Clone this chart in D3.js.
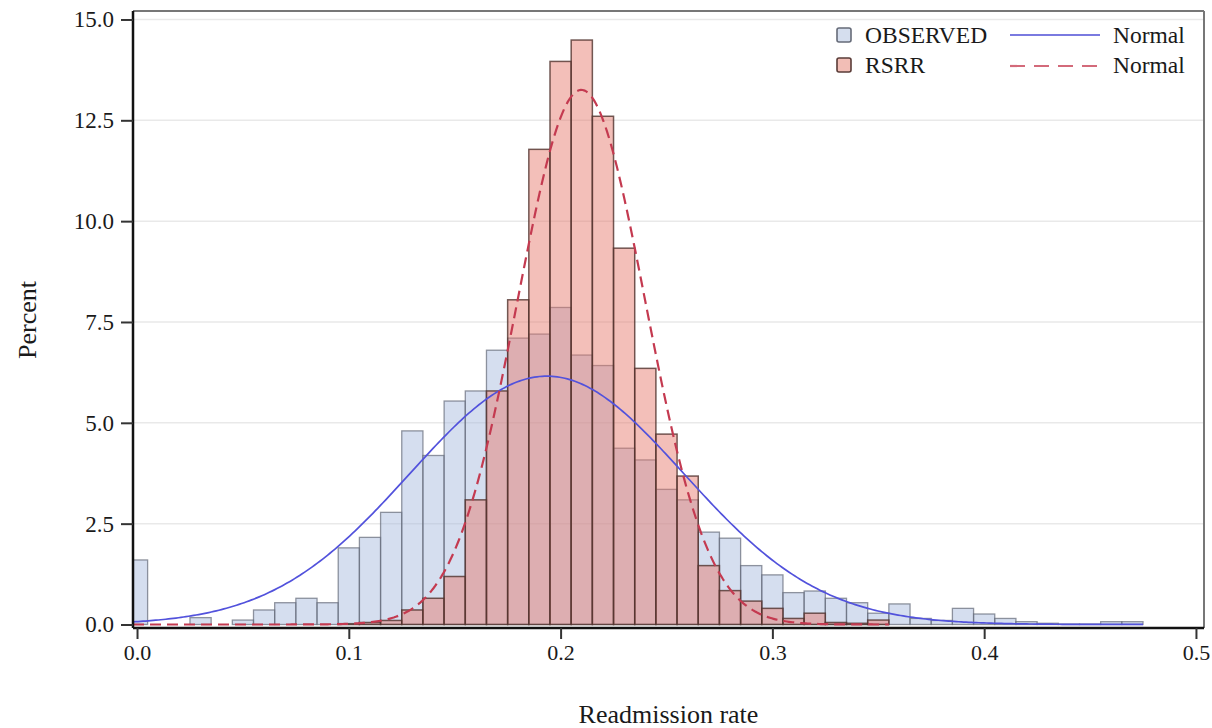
<!DOCTYPE html>
<html><head><meta charset="utf-8">
<script src="https://cdn.jsdelivr.net/npm/d3@7"></script>
<style>
body{margin:0;background:#fff}
svg{display:block}
text{font-family:"Liberation Serif","Times New Roman",serif;fill:#1a1a1a}
</style></head>
<body><svg id="c" width="1212" height="728"></svg>
<script>
// ---- data ----
const binWidth = 0.01;
const observedCenters = [0.00,0.01,0.02,0.03,0.04,0.05,0.06,0.07,0.08,0.09,0.10,0.11,0.12,0.13,0.14,0.15,0.16,0.17,0.18,0.19,0.20,0.21,0.22,0.23,0.24,0.25,0.26,0.27,0.28,0.29,0.30,0.31,0.32,0.33,0.34,0.35,0.36,0.37,0.38,0.39,0.40,0.41,0.42,0.43,0.44,0.45,0.46,0.47];
const observedPct = [1.60,0,0,0.17,0,0.11,0.36,0.54,0.65,0.54,1.90,2.16,2.78,4.80,4.19,5.54,5.79,6.80,7.10,7.20,7.86,6.68,6.42,4.37,4.08,3.35,3.09,2.29,2.14,1.46,1.23,0.79,0.83,0.65,0.54,0.28,0.51,0.15,0.10,0.40,0.26,0.15,0.07,0.03,0.01,0.01,0.07,0.07];
const rsrrCenters = [0.10,0.11,0.12,0.13,0.14,0.15,0.16,0.17,0.18,0.19,0.20,0.21,0.22,0.23,0.24,0.25,0.26,0.27,0.28,0.29,0.30,0.31,0.32,0.33,0.34,0.35];
const rsrrPct = [0.02,0.05,0.10,0.36,0.65,1.19,3.09,5.79,8.05,11.78,13.96,14.49,12.60,9.33,6.35,4.72,3.68,1.46,0.84,0.58,0.40,0.15,0.28,0.05,0.03,0.11];
// fitted normal curves (parameters)
const normalObserved = {mean:0.1935, sd:0.0648, xmin:-0.0019, xmax:0.475};
const normalRsrr = {mean:0.2098, sd:0.0301, xmin:-0.0019, xmax:0.355};
const xTicks = [0,0.1,0.2,0.3,0.4,0.5];
const xTickLabels = ["0.0","0.1","0.2","0.3","0.4","0.5"];
const yTicks = [0,2.5,5,7.5,10,12.5,15];
const yTickLabels = ["0.0","2.5","5.0","7.5","10.0","12.5","15.0"];
const legendItems = ["OBSERVED","RSRR"];
const legendLines = ["Normal","Normal"];

// ---- layout ----
const L=133, R=1204, T=11, B=628;
const svg = d3.select("#c");
const x = d3.scaleLinear().domain([-0.0019,0.5038]).range([L,R]);
const y = d3.scaleLinear().domain([-0.087,15.21]).range([B,T]);

svg.append("defs").append("clipPath").attr("id","clip")
  .append("rect").attr("x",L).attr("y",T).attr("width",R-L).attr("height",B-T);

// gridlines
svg.append("g").selectAll("line").data(yTicks.filter(d=>d>0)).join("line")
  .attr("x1",L).attr("x2",R).attr("y1",d=>y(d)).attr("y2",d=>y(d))
  .attr("stroke","#e9e9e9").attr("stroke-width",1.5);

const plot = svg.append("g").attr("clip-path","url(#clip)");

function bars(centers, vals, fill, stroke, sw){
  plot.append("g").selectAll("rect").data(centers.map((c,i)=>({c,v:vals[i]})).filter(d=>d.v>0)).join("rect")
    .attr("x",d=>x(d.c-binWidth/2))
    .attr("width",d=>x(d.c+binWidth/2)-x(d.c-binWidth/2))
    .attr("y",d=>y(d.v))
    .attr("height",d=>y(0)-y(d.v))
    .attr("fill",fill).attr("stroke",stroke).attr("stroke-width",sw);
}
bars(observedCenters, observedPct, "rgba(168,186,222,0.48)", "rgba(100,106,120,0.7)", 1.3);
bars(rsrrCenters, rsrrPct, "rgba(230,122,108,0.48)", "rgba(80,50,45,0.8)", 1.5);

function normalPath(p){
  const pts = d3.range(0,401).map(i=>p.xmin+(p.xmax-p.xmin)*i/400)
    .map(v=>[v, binWidth*100*Math.exp(-0.5*((v-p.mean)/p.sd)**2)/(p.sd*Math.sqrt(2*Math.PI))]);
  return d3.line().x(d=>x(d[0])).y(d=>y(d[1]))(pts);
}
plot.append("path").attr("d",normalPath(normalObserved)).attr("fill","none")
  .attr("stroke","#5252dc").attr("stroke-width",1.7);
plot.append("path").attr("d",normalPath(normalRsrr)).attr("fill","none")
  .attr("stroke","#c43a50").attr("stroke-width",2.2).attr("stroke-dasharray","11,6");

// frame
svg.append("line").attr("x1",L).attr("x2",R).attr("y1",T).attr("y2",T).attr("stroke","#777").attr("stroke-width",2);
svg.append("line").attr("x1",R).attr("x2",R).attr("y1",T).attr("y2",B).attr("stroke","#777").attr("stroke-width",2);

// axes
const yAxis = svg.append("g").attr("transform",`translate(${L},0)`)
  .call(d3.axisLeft(y).tickValues(yTicks).tickFormat((d,i)=>yTickLabels[i]).tickSize(12).tickPadding(7));
const xAxis = svg.append("g").attr("transform",`translate(0,${B})`)
  .call(d3.axisBottom(x).tickValues(xTicks).tickFormat((d,i)=>xTickLabels[i]).tickSize(11).tickPadding(5));
[yAxis,xAxis].forEach(a=>{
  a.select(".domain").attr("stroke","#111").attr("stroke-width",2.5);
  a.selectAll(".tick line").attr("stroke","#333").attr("stroke-width",2);
  a.selectAll(".tick text").attr("font-family","Liberation Serif, serif").attr("fill","#1a1a1a");
});
yAxis.selectAll(".tick text").attr("font-size",23);
xAxis.selectAll(".tick text").attr("font-size",22);
yAxis.select(".domain").attr("d",`M0,${T}V${B}`);
xAxis.select(".domain").attr("d",`M${L},0H${R}`);

// axis titles
svg.append("text").attr("x",(L+R)/2).attr("y",723).attr("text-anchor","middle")
  .attr("font-size",26).text("Readmission rate");
svg.append("text").attr("transform","translate(36,320) rotate(-90)").attr("text-anchor","middle")
  .attr("font-size",26).text("Percent");

// legend
const lg = svg.append("g");
const swFill = ["rgb(213,222,238)","rgb(242,190,182)"];
const swStroke = ["#666b78","#5a3c38"];
legendItems.forEach((t,i)=>{
  const yy = 35 + i*30;
  lg.append("rect").attr("x",837).attr("y",yy-7).attr("width",14).attr("height",14).attr("rx",2)
    .attr("fill",swFill[i]).attr("stroke",swStroke[i]).attr("stroke-width",1.6);
  lg.append("text").attr("x",865).attr("y",yy+8).attr("font-size",23.5).text(t);
});
lg.append("line").attr("x1",1010).attr("x2",1100).attr("y1",35).attr("y2",35).attr("stroke","#7a7ae0").attr("stroke-width",2);
lg.append("line").attr("x1",1010).attr("x2",1097).attr("y1",66).attr("y2",66).attr("stroke","#d36a7a").attr("stroke-width",2.2).attr("stroke-dasharray","15,9");
legendLines.forEach((t,i)=>{
  lg.append("text").attr("x",1113).attr("y",43+i*30).attr("font-size",23.5).text(t);
});
</script></body></html>
